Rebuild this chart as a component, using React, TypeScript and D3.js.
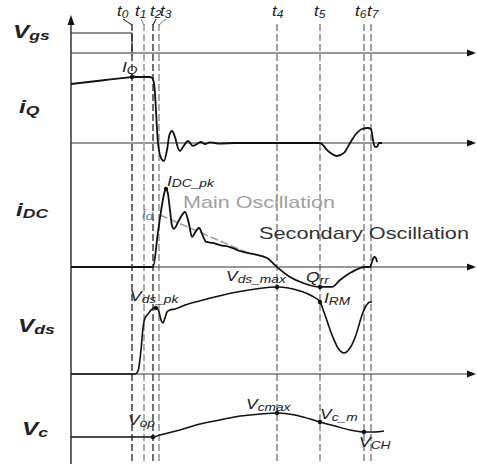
import React from 'react';
import * as d3 from 'd3';

// time axis in arbitrary units, switching instants t0..t7
const tMarks = [15.25, 18.25, 20.5, 22, 51.5, 62.25, 73.25, 75];
const tNames = ['0', '1', '2', '3', '4', '5', '6', '7'];

// waveforms as [t, value] pairs, value normalised per row
const vgsWave = [[0, 1], [15.25, 1], [15.25, 0]];
const iqWave = [
  [0, 0.894], [7.6, 0.947], [14.5, 0.995], [15.25, 1], [19.6, 1], [20.25, 0.99], [20.8, 0.88],
  [21.75, 0], [22.5, -0.227], [23.25, -0.273], [24, -0.106], [24.6, 0.12], [25.25, 0.182],
  [26, 0.09], [26.75, -0.076], [27.25, -0.121], [28, -0.06], [29.25, 0.03], [30.5, -0.045],
  [32.5, 0.015], [33.5, -0.015], [34.75, 0.008], [37.25, -0.008], [41, 0], [62.25, 0],
  [64.25, -0.12], [66.5, -0.197], [68.25, -0.15], [69.75, 0], [71.25, 0.136], [72.75, 0.212],
  [74.25, 0.227], [75, 0.212], [75.5, 0.045], [76, -0.06], [76.5, -0.06], [77, 0], [77.75, 0]
];
const idcWave = [
  [0, 0], [20.5, 0], [21.75, 0.449], [22.75, 0.795], [23.375, 0.96], [23.75, 1], [24.25, 0.936],
  [24.75, 0.73], [25.25, 0.53], [25.75, 0.49], [27, 0.6], [28.5, 0.705], [29.5, 0.551],
  [30.25, 0.385], [31.25, 0.462], [32, 0.5], [33, 0.397], [33.75, 0.321], [35.5, 0.308],
  [37.25, 0.282], [39.75, 0.256], [42.25, 0.205], [45.5, 0.167], [49, 0.115], [51.5, 0],
  [54.75, -0.128], [58, -0.205], [62.25, -0.256], [65.25, -0.256], [67.25, -0.167],
  [69.75, -0.077], [72.25, -0.013], [73.5, 0], [74.75, 0], [75.25, 0.064], [75.75, 0.128],
  [76.25, 0.115], [76.5, 0.064]
];
const idTrend = [[22.25, 0.667], [44.75, 0.167]];
const vdsWave = [
  [0, 0], [16, 0], [16.75, 0.045], [17.5, 0.364], [18, 0.697], [18.5, 0.848], [19.25, 0.909],
  [20, 0.97], [20.75, 1], [21.5, 1], [22, 0.94], [22.5, 0.818], [23, 0.773], [23.5, 0.848],
  [24, 0.94], [24.75, 0.97], [26, 0.985], [28.5, 1.045], [33, 1.121], [41.5, 1.242],
  [51.5, 1.318], [57.25, 1.258], [60.25, 1.182], [62.25, 1.091], [63.5, 0.894], [65.25, 0.591],
  [66.75, 0.394], [68.25, 0.318], [69.75, 0.394], [71.25, 0.591], [72.75, 0.894],
  [73.75, 1.03], [74.75, 1.091], [75.25, 1.091]
];
const vcWave = [
  [0, 0], [20.5, 0], [22.25, 0.083], [27.25, 0.292], [32.25, 0.542], [37.25, 0.708],
  [42.25, 0.875], [47.25, 0.958], [51.5, 1], [56, 0.917], [59.75, 0.75], [62.25, 0.625],
  [66, 0.458], [69.75, 0.292], [73.25, 0.208], [76, 0.208], [78.25, 0.25]
];

// marked points: [row, t, value]
const markers = [
  ['iq', 15.25, 1], ['idc', 23.75, 1], ['vds', 21.2, 1], ['vds', 51.5, 1.318],
  ['idc', 62.25, -0.256], ['vds', 62.25, 1.091], ['vc', 20.5, 0], ['vc', 51.5, 1],
  ['vc', 62.25, 0.625], ['vc', 73.25, 0.208]
];

const W = 477, H = 464;
const FONT = 'Liberation Sans, Arial, Helvetica, sans-serif';

const x = d3.scaleLinear().domain([0, 100]).range([71, 471]);
const y = {
  vgs: d3.scaleLinear().domain([0, 1]).range([53, 33]),
  iq: d3.scaleLinear().domain([0, 1]).range([143, 77]),
  idc: d3.scaleLinear().domain([0, 1]).range([267, 189]),
  vds: d3.scaleLinear().domain([0, 1]).range([374, 308]),
  vc: d3.scaleLinear().domain([0, 1]).range([437, 413])
};

function wave(row, curve = d3.curveMonotoneX) {
  return d3.line().x(d => x(d[0])).y(d => y[row](d[1])).curve(curve);
}

function Label({px, py, main, sub, size = 14, subSize = 11, bold = false, color = '#222', sx = 1.25, dy = 2}) {
  return (
    <text transform={`translate(${px},${py}) scale(${sx},1)`} fontFamily={FONT}
      fontStyle="italic" fontWeight={bold ? 'bold' : 'normal'} fill={color}>
      <tspan fontSize={size}>{main}</tspan>
      {sub && <tspan fontSize={subSize} dy={dy}>{sub}</tspan>}
    </text>
  );
}

function Arrow({tipX, tipY, dir}) {
  const p = dir === 'up'
    ? [[tipX, tipY], [tipX - 3.5, tipY + 10], [tipX + 3.5, tipY + 10]]
    : [[tipX, tipY], [tipX - 9, tipY - 3.5], [tipX - 9, tipY + 3.5]];
  return <polygon points={p.map(d => d.join(',')).join(' ')} fill="#111" />;
}

export default function App() {
  const axisRows = ['vgs', 'iq', 'idc', 'vds'];
  const labelShift = [-15, -9, -3, 1, -5, -6, -9, -4];
  const dashColor = ['#111', '#777', '#111', '#777', '#666', '#666', '#666', '#666'];

  return (
    <svg width={W} height={H} style={{position: 'fixed', left: 0, top: 0, background: '#fff'}}>
      {/* time markers */}
      {tMarks.map((t, i) => (
        <g key={'t' + i}>
          <line x1={x(t)} x2={x(t)} y1={24} y2={H} stroke={dashColor[i]} strokeWidth={1.2} strokeDasharray="7,3" />
          {i < 4 && <line x1={x(t) + labelShift[i] + 6} y1={19} x2={x(t)} y2={25} stroke={dashColor[i]} strokeWidth={1} />}
          <Label px={x(t) + labelShift[i]} py={16} main="t" sub={tNames[i]} size={14} subSize={10} sx={1.2} />
        </g>
      ))}

      {/* axes */}
      <line x1={71} x2={71} y1={24} y2={H} stroke="#111" strokeWidth={1.3} />
      <Arrow tipX={71} tipY={15} dir="up" />
      {axisRows.map(r => (
        <g key={r}>
          <line x1={71} x2={468} y1={y[r](0)} y2={y[r](0)} stroke="#333" strokeWidth={1.1} />
          <Arrow tipX={476} tipY={y[r](0)} dir="right" />
        </g>
      ))}

      {/* waveforms */}
      <path d={wave('vgs', d3.curveLinear)(vgsWave)} fill="none" stroke="#222" strokeWidth={1.2} />
      <path d={wave('idc', d3.curveLinear)(idTrend)} fill="none" stroke="#999" strokeWidth={1.5} strokeDasharray="8,3" />
      <path d={wave('iq')(iqWave)} fill="none" stroke="#111" strokeWidth={1.8} />
      <path d={wave('idc')(idcWave)} fill="none" stroke="#111" strokeWidth={1.8} />
      <path d={wave('vds')(vdsWave)} fill="none" stroke="#111" strokeWidth={1.6} />
      <path d={wave('vc')(vcWave)} fill="none" stroke="#111" strokeWidth={1.5} />

      {markers.map((m, i) => (
        <circle key={'m' + i} cx={x(m[1])} cy={y[m[0]](m[2])} r={2.2} fill="#111" />
      ))}

      {/* row labels */}
      <Label px={13} py={38} main="V" sub="gs" size={18} subSize={13} bold sx={1.35} />
      <Label px={19} py={113} main="i" sub="Q" size={18} subSize={13} bold sx={1.35} />
      <Label px={16} py={216} main="i" sub="DC" size={18} subSize={13} bold sx={1.35} />
      <Label px={18} py={332} main="V" sub="ds" size={18} subSize={13} bold sx={1.35} />
      <Label px={22} py={435} main="V" sub="c" size={18} subSize={13} bold sx={1.35} />

      {/* annotations */}
      <Label px={122} py={72} main="I" sub="Q" />
      <Label px={142} py={218} main="i" sub="d" size={13} subSize={11} color="#4f86c6" />
      <Label px={167} py={186} main="I" sub="DC_pk" dy={1} />
      <Label px={130} py={301} main="V" sub="ds_pk" />
      <Label px={226} py={281} main="V" sub="ds_max" />
      <Label px={306} py={282} main="Q" sub="rr" />
      <Label px={324} py={303} main="I" sub="RM" />
      <Label px={128} py={425} main="V" sub="op" />
      <Label px={246} py={409} main="V" sub="cmax" />
      <Label px={320} py={419} main="V" sub="c_m" />
      <Label px={359} py={447} main="V" sub="CH" />

      <text x={183} y={208} fontFamily={FONT} fontSize={17} fill="#a0a0a0"
        textLength={152} lengthAdjust="spacingAndGlyphs">Main Oscillation</text>
      <text x={259} y={239} fontFamily={FONT} fontSize={17} fill="#333"
        textLength={210} lengthAdjust="spacingAndGlyphs">Secondary Oscillation</text>
    </svg>
  );
}
